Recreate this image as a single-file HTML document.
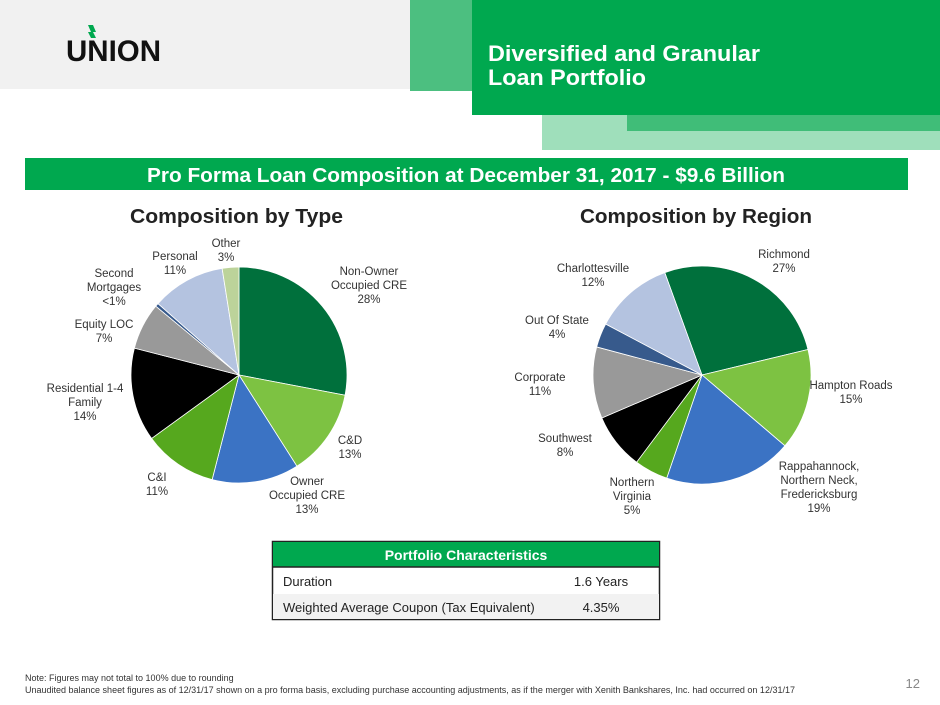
<!DOCTYPE html>
<html><head><meta charset="utf-8"><style>
html,body{margin:0;padding:0;width:940px;height:705px;overflow:hidden;background:#fff;font-family:"Liberation Sans",sans-serif}
</style></head><body>
<svg id="s" width="940" height="705" xmlns="http://www.w3.org/2000/svg" font-family="Liberation Sans, sans-serif">
<rect x="0" y="0" width="410" height="89" fill="#f1f1f1"/>
<rect x="410" y="0" width="62" height="91" fill="#4cbf80"/>
<rect x="542" y="115" width="398" height="35" fill="#9fdfbb"/>
<rect x="627" y="115" width="313" height="16" fill="#40bd78"/>
<rect x="472" y="0" width="468" height="115" fill="#00a84f"/>
<text x="488" y="61" fill="#fff" font-size="22" font-weight="bold" textLength="272" lengthAdjust="spacingAndGlyphs">Diversified and Granular</text>
<text x="488" y="85" fill="#fff" font-size="22" font-weight="bold" textLength="158" lengthAdjust="spacingAndGlyphs">Loan Portfolio</text>
<text x="66" y="61" font-size="30" font-weight="bold" fill="#111" textLength="95" lengthAdjust="spacingAndGlyphs">UNION</text>
<polygon points="88,25 93,25 96,32 91,32" fill="#00a84f"/>
<polygon points="88,32 93,32 96,38 91,38" fill="#00a84f"/>
<rect x="25" y="158" width="883" height="32" fill="#00a84f"/>
<text x="147" y="182" fill="#fff" font-size="20" font-weight="bold" textLength="638" lengthAdjust="spacingAndGlyphs">Pro Forma Loan Composition at December 31, 2017 - $9.6 Billion</text>
<text x="130" y="223" font-size="20" font-weight="bold" fill="#222" textLength="213" lengthAdjust="spacingAndGlyphs">Composition by Type</text>
<text x="580" y="223" font-size="20" font-weight="bold" fill="#222" textLength="232" lengthAdjust="spacingAndGlyphs">Composition by Region</text>
<g id="p1"></g><g id="p2"></g>
<g font-size="11.5" fill="#333" text-anchor="middle">
<text x="369" y="275">Non-Owner</text><text x="369" y="289">Occupied CRE</text><text x="369" y="303">28%</text>
<text x="350" y="444">C&amp;D</text><text x="350" y="458">13%</text>
<text x="307" y="485">Owner</text><text x="307" y="499">Occupied CRE</text><text x="307" y="513">13%</text>
<text x="157" y="481">C&amp;I</text><text x="157" y="495">11%</text>
<text x="85" y="392">Residential 1-4</text><text x="85" y="406">Family</text><text x="85" y="420">14%</text>
<text x="104" y="328">Equity LOC</text><text x="104" y="342">7%</text>
<text x="114" y="277">Second</text><text x="114" y="291">Mortgages</text><text x="114" y="305">&lt;1%</text>
<text x="175" y="260">Personal</text><text x="175" y="274">11%</text>
<text x="226" y="247">Other</text><text x="226" y="261">3%</text>
<text x="784" y="258">Richmond</text><text x="784" y="272">27%</text>
<text x="851" y="389">Hampton Roads</text><text x="851" y="403">15%</text>
<text x="819" y="470">Rappahannock,</text><text x="819" y="484">Northern Neck,</text><text x="819" y="498">Fredericksburg</text><text x="819" y="512">19%</text>
<text x="632" y="486">Northern</text><text x="632" y="500">Virginia</text><text x="632" y="514">5%</text>
<text x="565" y="442">Southwest</text><text x="565" y="456">8%</text>
<text x="540" y="381">Corporate</text><text x="540" y="395">11%</text>
<text x="557" y="324">Out Of State</text><text x="557" y="338">4%</text>
<text x="593" y="272">Charlottesville</text><text x="593" y="286">12%</text>
</g>
<rect x="272.5" y="541.5" width="387" height="78" fill="#fff" stroke="#222" stroke-width="1.5"/>
<rect x="273" y="542" width="386" height="25" fill="#00a84f"/>
<line x1="272" y1="567" x2="660" y2="567" stroke="#222" stroke-width="1.5"/>
<rect x="273" y="594" width="386" height="25" fill="#f2f2f2"/>
<text x="466" y="560" fill="#fff" font-size="14" font-weight="bold" text-anchor="middle">Portfolio Characteristics</text>
<text x="283" y="586" font-size="13" fill="#222">Duration</text>
<text x="601" y="586" font-size="13" fill="#222" text-anchor="middle">1.6 Years</text>
<text x="283" y="612" font-size="13" fill="#222">Weighted Average Coupon  (Tax Equivalent)</text>
<text x="601" y="612" font-size="13" fill="#222" text-anchor="middle">4.35%</text>
<text x="25" y="681" font-size="9" fill="#333">Note: Figures may not total to 100% due to rounding</text>
<text x="25" y="693" font-size="9" fill="#333">Unaudited balance sheet figures as of 12/31/17 shown on a pro forma basis, excluding purchase accounting adjustments, as if the merger with Xenith Bankshares, Inc. had occurred on 12/31/17</text>
<text x="920" y="688" font-size="13" fill="#888" text-anchor="end">12</text>
</svg>
<script>
function pie(id,cx,cy,r,start,data){
 var g=document.getElementById(id),a=start,h='';
 data.forEach(function(d){
  var b=a+d[0]*3.6;
  var x1=cx+r*Math.sin(a*Math.PI/180),y1=cy-r*Math.cos(a*Math.PI/180);
  var x2=cx+r*Math.sin(b*Math.PI/180),y2=cy-r*Math.cos(b*Math.PI/180);
  h+='<path d="M'+cx+','+cy+'L'+x1+','+y1+'A'+r+','+r+' 0 '+((b-a)>180?1:0)+' 1 '+x2+','+y2+'Z" fill="'+d[1]+'" stroke="#fff" stroke-width="0.8"/>';
  a=b;});
 g.innerHTML=h;
}
pie('p1',239,375,108,0,[[28,'#00703c'],[13,'#7dc242'],[13,'#3b73c4'],[11,'#56a81e'],[14,'#000'],[7,'#999'],[0.5,'#375a8c'],[11,'#b4c3e0'],[2.5,'#bcd39a']]);
pie('p2',702,375,109,-20,[[26.8,'#00703c'],[15,'#7dc242'],[19,'#3b73c4'],[5,'#56a81e'],[8.3,'#000'],[10.6,'#999'],[3.6,'#375a8c'],[11.7,'#b4c3e0']]);
</script>
</body></html>
